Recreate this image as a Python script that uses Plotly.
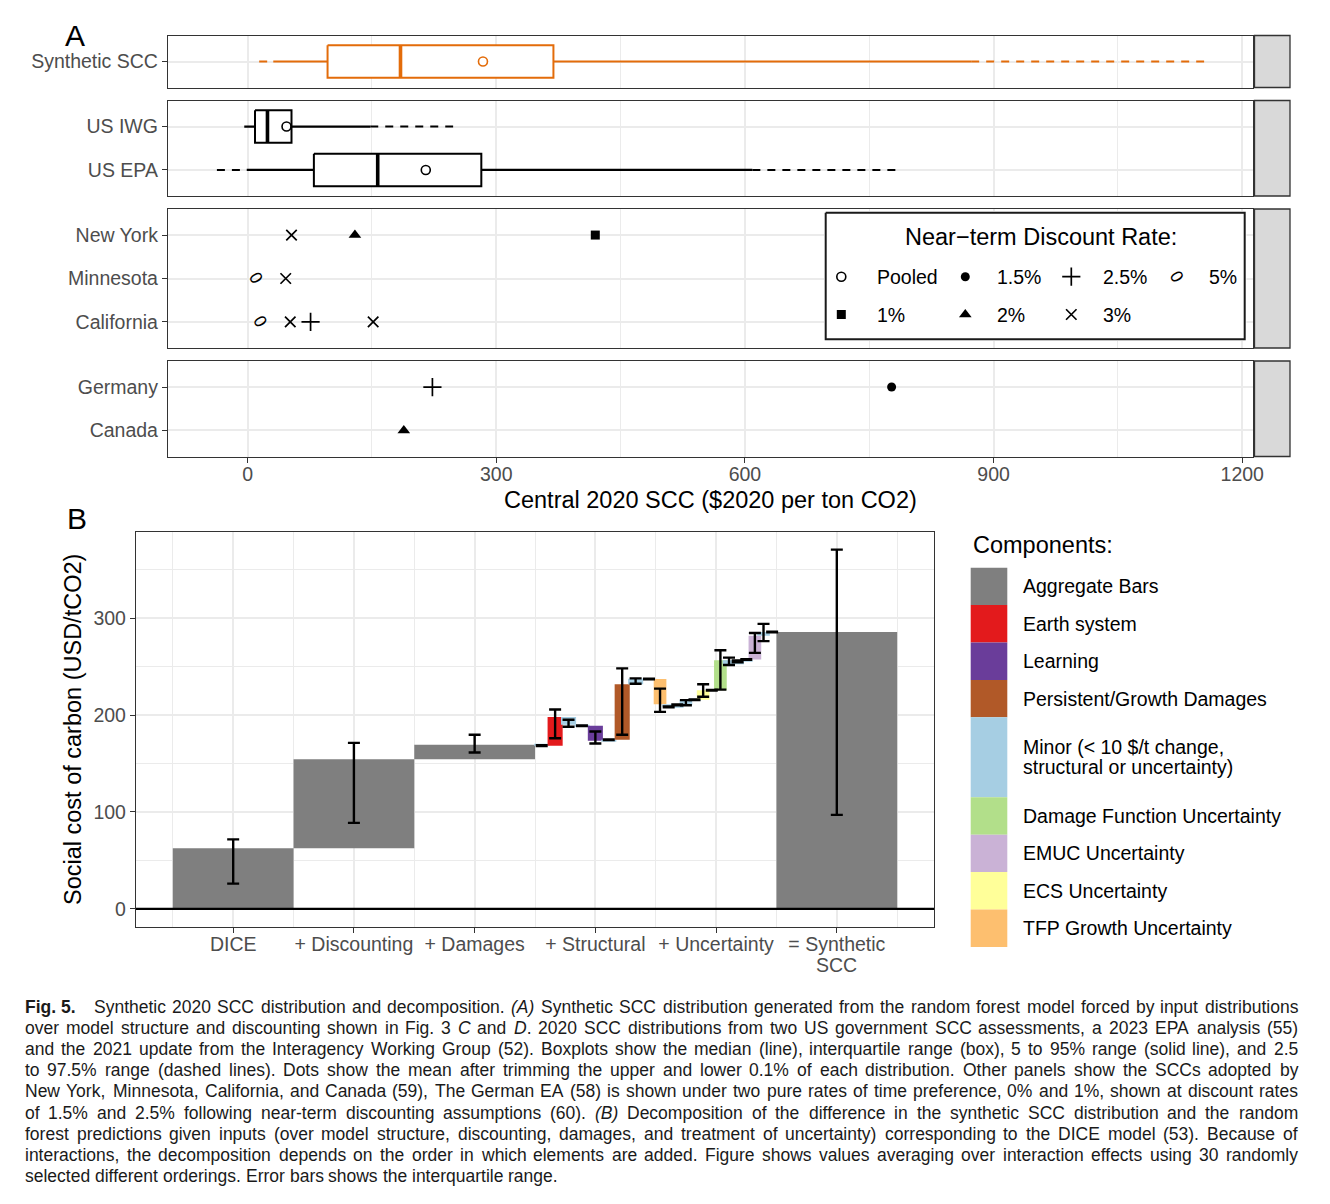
import re
import plotly.graph_objects as go

W, H = 1330, 1204

# ---------------- Panel A data ----------------
panel_rows = [["Synthetic SCC"], ["US IWG", "US EPA"],
              ["New York", "Minnesota", "California"], ["Germany", "Canada"]]

box_names = ["Synthetic SCC", "US IWG", "US EPA"]
box_p025 = [14, -4, -37]
box_p05 = [31, -4, -1]
box_q1 = [96.5, 9, 80]
box_median = [184.5, 24, 157]
box_mean = [284, 47, 215]
box_q3 = [369, 53, 282]
box_p95 = [873, 148, 609]
box_p975 = [1154, 248, 787]

pt_names = ["New York", "New York", "New York", "Minnesota", "Minnesota",
            "California", "California", "California", "California",
            "Germany", "Germany", "Canada"]
pt_rates = ["3%", "2%", "1%", "5%", "3%", "5%", "3%", "2.5%", "3%", "2.5%", "1.5%", "2%"]
pt_values = [53, 129.5, 419.5, 10, 46, 14.5, 51.5, 76, 151.5, 223, 777, 188.5]

legend_a_rates = ["Pooled", "1.5%", "2.5%", "5%", "1%", "2%", "3%"]
x_ticks_a = [0, 300, 600, 900, 1200]

# ---------------- Panel B data ----------------
stage_labels = ["DICE", "+ Discounting", "+ Damages", "+ Structural",
                "+ Uncertainty", "= Synthetic"]
stage_sub = "SCC"

agg_names = ["DICE", "+ Discounting", "+ Damages", "= Synthetic"]
agg_start = [0, 62.5, 154.5, 0]
agg_end = [62.5, 154.5, 169.5, 285.8]
agg_err_lo = [26, 88.7, 161.5, 97]
agg_err_hi = [71.7, 171.4, 179.7, 371]

struct_comp = ["Minor", "Earth system", "Minor", "Minor", "Learning", "Minor",
               "Persistent/Growth Damages", "Minor", "Minor"]
struct_end = [168.5, 198, 190, 189, 173.5, 174.7, 232, 237.5, 237.3]
struct_err_lo = [168.2, 176.2, 188.1, 188.7, 170.8, 174.4, 179.8, 232.5, 237.0]
struct_err_hi = [169.0, 205.8, 195.2, 189.3, 183.2, 175.0, 248.3, 238.0, 237.6]

unc_comp = ["TFP Growth Uncertainty", "Minor", "Minor", "Minor", "Minor",
            "ECS Uncertainty", "Minor", "Damage Function Uncertainty", "Minor",
            "Minor", "Minor", "EMUC Uncertainty", "Minor", "Minor"]
unc_end = [211.3, 208.6, 210.6, 215.5, 216.0, 225.8, 225.8, 256.8, 252.5,
           255.5, 257.4, 282.0, 285.8, 285.8]
unc_err_lo = [203.4, 208.2, 210.3, 210.3, 215.7, 219.0, 225.5, 226.4, 251.8,
              254.5, 257.1, 264.3, 276.5, 285.5]
unc_err_hi = [227.4, 209.0, 211.0, 215.5, 216.3, 232.0, 226.1, 267.0, 259.4,
              256.5, 257.7, 284.8, 294.3, 286.1]

comp_names = ["Aggregate Bars", "Earth system", "Learning", "Persistent/Growth Damages",
              "Minor", "Damage Function Uncertainty", "EMUC Uncertainty",
              "ECS Uncertainty", "TFP Growth Uncertainty"]
comp_labels = ["Aggregate Bars", "Earth system", "Learning", "Persistent/Growth Damages",
               "Minor (&lt; 10 $/t change,|structural or uncertainty)",
               "Damage Function Uncertainty", "EMUC Uncertainty",
               "ECS Uncertainty", "TFP Growth Uncertainty"]
comp_colors = ["#7F7F7F", "#E31A1C", "#6A3D9A", "#B15928", "#A6CEE3",
               "#B2DF8A", "#CAB2D6", "#FFFF99", "#FDBF6F"]

caption_lines = [
    "<b>Fig.\u00a05.</b>\u00a0\u00a0 Synthetic 2020 SCC distribution and decomposition. <i>(A)</i> Synthetic SCC distribution generated from the random forest model forced by input distributions",
    "over model structure and discounting shown in Fig. 3 <i>C</i> and <i>D</i>. 2020 SCC distributions from two US government SCC assessments, a 2023 EPA analysis (55)",
    "and the 2021 update from the Interagency Working Group (52). Boxplots show the median (line), interquartile range (box), 5 to 95% range (solid line), and 2.5",
    "to 97.5% range (dashed lines). Dots show the mean after trimming the upper and lower 0.1% of each distribution. Other panels show the SCCs adopted by",
    "New York, Minnesota, California, and Canada (59), The German EA (58) is shown under two pure rates of time preference, 0% and 1%, shown at discount rates",
    "of 1.5% and 2.5% following near-term discounting assumptions (60). <i>(B)</i> Decomposition of the difference in the synthetic SCC distribution and the random",
    "forest predictions given inputs (over model structure, discounting, damages, and treatment of uncertainty) corresponding to the DICE model (53). Because of",
    "interactions, the decomposition depends on the order in which elements are added. Figure shows values averaging over interaction effects using 30 randomly",
    "selected different orderings. Error bars shows the interquartile range.",
]

# ---------------- styles ----------------
FONT = "Liberation Sans, Arial, Helvetica, sans-serif"
CAPFONT = "Liberation Sans, Arial, sans-serif"
GRID = "#EBEBEB"
BORDER = "#333333"
TICKC = "#4D4D4D"
ORANGE = "#E36C0A"
DASH = "8px,7px"
rate_style = {
    "Pooled": dict(symbol="circle-open", size=9, lw=1.6),
    "1.5%": dict(symbol="circle", size=9, lw=0),
    "2.5%": dict(symbol="cross-thin-open", size=13, lw=1.7),
    "5%": None,  # drawn as a tilted text ellipse
    "1%": dict(symbol="square", size=9, lw=0),
    "2%": dict(symbol="triangle-up", size=11, lw=0),
    "3%": dict(symbol="x-thin-open", size=10.5, lw=1.7),
}
ELLIPSE_GLYPH = dict(text="0", textangle=60, font=dict(family="DejaVu Sans, sans-serif", size=16.5, color="black"))


def fx(p):
    return p / W


def fy(p):
    return 1 - p / H


row_px = [(35.5, 87.5), (100.5, 196), (209, 348), (361, 456.5)]
A_X0, A_X1 = 168, 1253
B_X0, B_X1, B_Y0, B_Y1 = 136, 934, 531.7, 926.7


def axname(i, kind):
    return kind if i == 1 else f"{kind}{i}"


def locate(name):
    for r, names in enumerate(panel_rows):
        if name in names:
            return r + 1, names.index(name)


fig = go.Figure()
annotations = []

# ---------------- Panel A boxplots ----------------
hw = 0.375
for i, name in enumerate(box_names):
    r, k = locate(name)
    xa, ya = axname(r, "x"), axname(r, "y")
    col = ORANGE if name == "Synthetic SCC" else "black"
    common = dict(xaxis=xa, yaxis=ya, showlegend=False, hoverinfo="skip", mode="lines")
    for a, b in [(box_p025[i], box_p05[i]), (box_p95[i], box_p975[i])]:
        fig.add_trace(go.Scatter(x=[a, b], y=[k, k], line=dict(color=col, width=2, dash=DASH), **common))
    for a, b in [(box_p05[i], box_q1[i]), (box_q3[i], box_p95[i])]:
        fig.add_trace(go.Scatter(x=[a, b], y=[k, k], line=dict(color=col, width=2.2), **common))
    q1, q3 = box_q1[i], box_q3[i]
    fig.add_trace(go.Scatter(x=[q1, q3, q3, q1, q1], y=[k - hw, k - hw, k + hw, k + hw, k - hw],
                             fill="toself", fillcolor="white", line=dict(color=col, width=2), **common))
    m = box_median[i]
    fig.add_trace(go.Scatter(x=[m, m], y=[k - hw, k + hw], line=dict(color=col, width=3.6), **common))
    fig.add_trace(go.Scatter(x=[box_mean[i]], y=[k], mode="markers", xaxis=xa, yaxis=ya,
                             showlegend=False, hoverinfo="skip",
                             marker=dict(symbol="circle-open", size=9, color=col, line=dict(width=1.6, color=col))))

# ---------------- Panel A jurisdiction points ----------------
for name, rate, val in zip(pt_names, pt_rates, pt_values):
    r, k = locate(name)
    st = rate_style[rate]
    if st is None:
        annotations.append(dict(x=val, y=k, xref=axname(r, "x"), yref=axname(r, "y"),
                                xanchor="center", yanchor="middle", showarrow=False, **ELLIPSE_GLYPH))
        continue
    fig.add_trace(go.Scatter(
        x=[val], y=[k], mode="markers", xaxis=axname(r, "x"), yaxis=axname(r, "y"),
        showlegend=False, hoverinfo="skip",
        marker=dict(symbol=st["symbol"], size=st["size"], color="black",
                    line=dict(width=st["lw"], color="black"))))

# ---------------- Panel A legend (manual, own overlay axes) ----------------
LX0, LX1, LY0, LY1 = 824, 1246.5, 211, 341
fig.add_trace(go.Scatter(x=[825.7, 1244.7, 1244.7, 825.7, 825.7],
                         y=[212.7, 212.7, 339.3, 339.3, 212.7],
                         mode="lines", fill="toself", fillcolor="white",
                         line=dict(color="#1a1a1a", width=2),
                         xaxis="x6", yaxis="y6", showlegend=False, hoverinfo="skip"))
leg_a_gx = [841.3, 965.3, 1071.3, 1176.0, 841.3, 965.3, 1071.3]
leg_a_lx = [874.7, 995.3, 1101.3, 1207.0, 874.7, 995.3, 1101.3]
leg_a_y = [276.7, 276.7, 276.7, 276.7, 314.5, 314.5, 314.5]
for rate, gx, gy in zip(legend_a_rates, leg_a_gx, leg_a_y):
    st = rate_style[rate]
    if st is None:
        annotations.append(dict(x=fx(gx), y=fy(gy), xref="paper", yref="paper",
                                xanchor="center", yanchor="middle", showarrow=False, **ELLIPSE_GLYPH))
        continue
    fig.add_trace(go.Scatter(
        x=[gx], y=[gy], mode="markers", xaxis="x6", yaxis="y6", showlegend=False, hoverinfo="skip",
        marker=dict(symbol=st["symbol"], size=st["size"], color="black",
                    line=dict(width=st["lw"], color="black"))))

annotations.append(dict(text="Near\u2212term Discount Rate:", x=fx(1040.5), y=fy(237), xref="paper", yref="paper",
                        xanchor="center", yanchor="middle", showarrow=False,
                        font=dict(family=FONT, size=23.5, color="black")))
for rate, lx, ly in zip(legend_a_rates, leg_a_lx, leg_a_y):
    annotations.append(dict(text=rate, x=fx(lx), y=fy(ly), xref="paper", yref="paper",
                            xanchor="left", yanchor="middle", showarrow=False,
                            font=dict(family=FONT, size=19.5, color="black")))

# ---------------- Panel B waterfall ----------------
color_of = dict(zip(comp_names, comp_colors))
bx = [stage_labels.index(n) + 1 for n in agg_names]
fig.add_trace(go.Bar(x=bx, base=agg_start, y=[e - s for s, e in zip(agg_start, agg_end)],
                     width=1.0, marker=dict(color=color_of["Aggregate Bars"], line=dict(width=0)),
                     xaxis="x5", yaxis="y5", showlegend=False, hoverinfo="skip"))
fig.add_trace(go.Scatter(x=bx, y=agg_err_lo, mode="markers", marker=dict(size=2, color="rgba(0,0,0,0)"),
                         error_y=dict(type="data", symmetric=False,
                                      array=[h - l for l, h in zip(agg_err_lo, agg_err_hi)],
                                      arrayminus=[0] * len(bx), color="black", thickness=2.4, width=6),
                         xaxis="x5", yaxis="y5", showlegend=False, hoverinfo="skip"))


def add_group(stage, comps, ends, lo, hi, start, width):
    n = len(comps)
    g0 = stage_labels.index(stage) + 1 - 0.5
    xs = [g0 + (j + 0.5) / n for j in range(n)]
    starts = [start] + ends[:-1]
    fig.add_trace(go.Bar(x=xs, base=starts, y=[e - s for s, e in zip(starts, ends)], width=width,
                         marker=dict(color=[color_of[c] for c in comps], line=dict(width=0)),
                         xaxis="x5", yaxis="y5", showlegend=False, hoverinfo="skip"))
    fig.add_trace(go.Scatter(x=xs, y=lo, mode="markers", marker=dict(size=2, color="rgba(0,0,0,0)"),
                             error_y=dict(type="data", symmetric=False,
                                          array=[h - l for l, h in zip(lo, hi)],
                                          arrayminus=[0] * n, color="black", thickness=2.4, width=6),
                             xaxis="x5", yaxis="y5", showlegend=False, hoverinfo="skip"))


add_group("+ Structural", struct_comp, struct_end, struct_err_lo, struct_err_hi,
          agg_end[agg_names.index("+ Damages")], 0.125)
add_group("+ Uncertainty", unc_comp, unc_end, unc_err_lo, unc_err_hi, struct_end[-1], 0.105)

# second line of the last stage label
annotations.append(dict(text=stage_sub, x=len(stage_labels), y=fy(965), xref="x5", yref="paper",
                        xanchor="center", yanchor="middle", showarrow=False,
                        font=dict(family=FONT, size=19.5, color=TICKC)))

# ---------------- layout axes ----------------
layout = dict(width=W, height=H, margin=dict(l=0, r=0, t=0, b=0, pad=0, autoexpand=False),
              paper_bgcolor="white", plot_bgcolor="white", barmode="overlay", showlegend=False,
              font=dict(family=FONT, color="black"))

for r in range(1, 5):
    names = panel_rows[r - 1]
    n = len(names)
    y0p, y1p = row_px[r - 1]
    bottom = (r == 4)
    layout[("xaxis" if r == 1 else f"xaxis{r}")] = dict(
        domain=[fx(A_X0), fx(A_X1)], anchor=axname(r, "y"), range=[-96, 1213], automargin=False,
        tickmode="array", tickvals=x_ticks_a, ticktext=[str(v) for v in x_ticks_a],
        showticklabels=bottom, ticks="outside" if bottom else "", ticklen=5, tickwidth=1.3, tickcolor=BORDER,
        ticklabelstandoff=-5,
        tickfont=dict(family=FONT, size=19.5, color=TICKC),
        showgrid=True, gridcolor=GRID, gridwidth=1.6, zeroline=False,
        minor=dict(tickvals=[-150, 150, 450, 750, 1050], showgrid=True, gridcolor=GRID, gridwidth=0.9, ticks=""),
        showline=True, mirror=True, linecolor=BORDER, linewidth=1.3)
    layout[("yaxis" if r == 1 else f"yaxis{r}")] = dict(
        domain=[fy(y1p), fy(y0p)], anchor=axname(r, "x"), range=[n - 0.4, -0.6], automargin=False,
        tickmode="array", tickvals=list(range(n)), ticktext=names,
        ticks="outside", ticklen=5, tickwidth=1.3, tickcolor=BORDER,
        tickfont=dict(family=FONT, size=19.5, color=TICKC),
        showgrid=True, gridcolor=GRID, gridwidth=1.6, zeroline=False,
        showline=True, mirror=True, linecolor=BORDER, linewidth=1.3)

layout["xaxis5"] = dict(
    domain=[fx(B_X0), fx(B_X1)], anchor="y5", range=[0.195, 6.805], automargin=False,
    tickmode="array", tickvals=list(range(1, 7)), ticktext=stage_labels,
    ticks="outside", ticklen=5, tickwidth=1.3, tickcolor=BORDER, ticklabelstandoff=-5,
    tickfont=dict(family=FONT, size=19.5, color=TICKC),
    showgrid=True, gridcolor=GRID, gridwidth=1.6, zeroline=False,
    minor=dict(tickvals=[0.5, 1.5, 2.5, 3.5, 4.5, 5.5, 6.5], showgrid=True, gridcolor=GRID, gridwidth=0.9, ticks=""),
    showline=True, mirror=True, linecolor=BORDER, linewidth=1.3)
layout["yaxis5"] = dict(
    domain=[fy(B_Y1), fy(B_Y0)], anchor="x5", range=[-18.5, 389.5], automargin=False,
    tickmode="array", tickvals=[0, 100, 200, 300],
    ticks="outside", ticklen=5, tickwidth=1.3, tickcolor=BORDER,
    tickfont=dict(family=FONT, size=19.5, color=TICKC),
    showgrid=True, gridcolor=GRID, gridwidth=1.6, zeroline=False,
    minor=dict(tickvals=[50, 150, 250, 350], showgrid=True, gridcolor=GRID, gridwidth=0.9, ticks=""),
    showline=True, mirror=True, linecolor=BORDER, linewidth=1.3)

layout["xaxis6"] = dict(domain=[fx(LX0), fx(LX1)], range=[LX0, LX1], anchor="y6", visible=False,
                        fixedrange=True, automargin=False)
layout["yaxis6"] = dict(domain=[fy(LY1), fy(LY0)], range=[LY1, LY0], anchor="x6", visible=False,
                        fixedrange=True, automargin=False)

# ---------------- shapes ----------------
shapes = []
for (y0p, y1p) in row_px:
    shapes.append(dict(type="rect", xref="paper", yref="paper", x0=fx(1254.5), x1=fx(1290),
                       y0=fy(y1p), y1=fy(y0p), fillcolor="#D9D9D9", line=dict(color=BORDER, width=1.3),
                       layer="above"))
shapes.append(dict(type="line", xref="x5 domain", yref="y5", x0=0, x1=1, y0=0, y1=0,
                   line=dict(color="black", width=2.2), layer="above"))

# legend B keys
key_heights = [37.4, 37.4, 37.4, 37.4, 80, 37.4, 37.4, 37.4, 37.4]
ktop = 567.7
for lab, colr, kh in zip(comp_labels, comp_colors, key_heights):
    shapes.append(dict(type="rect", xref="paper", yref="paper", x0=fx(970.7), x1=fx(1007.3),
                       y0=fy(ktop + kh), y1=fy(ktop), fillcolor=colr, line=dict(width=0)))
    parts = lab.split("|")
    cy = ktop + kh / 2
    offs = [0] if len(parts) == 1 else [-10, 10]
    for part, o in zip(parts, offs):
        annotations.append(dict(text=part, x=fx(1020.7), y=fy(cy + o), xref="paper", yref="paper",
                                xanchor="left", yanchor="middle", showarrow=False,
                                font=dict(family=FONT, size=19.5, color="black")))
    ktop += kh
annotations.append(dict(text="Components:", x=fx(970.5), y=fy(545), xref="paper", yref="paper",
                        xanchor="left", yanchor="middle", showarrow=False,
                        font=dict(family=FONT, size=23.5, color="black")))

# titles and panel letters
annotations.append(dict(text="Central 2020 SCC ($2020 per ton CO2)", x=fx(710), y=fy(500), xref="paper",
                        yref="paper", xanchor="center", yanchor="middle", showarrow=False,
                        font=dict(family=FONT, size=23.5, color="black")))
annotations.append(dict(text="Social cost of carbon (USD/tCO2)", x=fx(73), y=fy(730), xref="paper",
                        yref="paper", xanchor="center", yanchor="middle", showarrow=False, textangle=-90,
                        font=dict(family=FONT, size=23.5, color="black")))
annotations.append(dict(text="A", x=fx(75), y=fy(35), xref="paper", yref="paper", xanchor="center",
                        yanchor="middle", showarrow=False, font=dict(family=FONT, size=30, color="black")))
annotations.append(dict(text="B", x=fx(76.5), y=fy(518), xref="paper", yref="paper", xanchor="center",
                        yanchor="middle", showarrow=False, font=dict(family=FONT, size=30, color="black")))

# ---------------- caption (justified with Arial-compatible metrics) ----------------
AW = {' ': 278, '\u00a0': 278, '(': 333, ')': 333, ',': 278, '-': 333, '.': 278, '/': 278, '%': 889,
      ':': 278, ';': 278, '$': 556,
      'A': 667, 'B': 667, 'C': 722, 'D': 722, 'E': 667, 'F': 611, 'G': 778, 'H': 722, 'I': 278,
      'J': 500, 'K': 667, 'L': 556, 'M': 833, 'N': 722, 'O': 778, 'P': 667, 'Q': 778, 'R': 722,
      'S': 667, 'T': 611, 'U': 722, 'V': 667, 'W': 944, 'X': 667, 'Y': 667, 'Z': 611,
      'a': 556, 'b': 556, 'c': 500, 'd': 556, 'e': 556, 'f': 278, 'g': 556, 'h': 556, 'i': 222,
      'j': 222, 'k': 500, 'l': 222, 'm': 833, 'n': 556, 'o': 556, 'p': 556, 'q': 556, 'r': 333,
      's': 500, 't': 278, 'u': 556, 'v': 500, 'w': 722, 'x': 500, 'y': 500, 'z': 500}


def word_w(word):
    bold = "<b>" in word
    plain = re.sub(r"<[^>]+>", "", word)
    w = sum(AW.get(ch, 556) for ch in plain)
    return w * (1.07 if bold else 1.0)


CAP_L, CAP_R = 25, 1298
line_words = [ln.split(" ") for ln in caption_lines]
natural = [sum(word_w(w) for w in ws) + AW[' '] * (len(ws) - 1) for ws in line_words]
cap_size = min(17.5, (CAP_R - CAP_L) * 1000.0 / max(natural[:-1]) * 0.985)
for j, ws in enumerate(line_words):
    yj = fy(1007 + 21.1 * j)
    widths = [word_w(w) * cap_size / 1000 for w in ws]
    if j < len(line_words) - 1:
        gap = ((CAP_R - CAP_L) - sum(widths)) / (len(ws) - 1)
    else:
        gap = AW[' '] * cap_size / 1000
    xpos = CAP_L
    for w, wd in zip(ws, widths):
        annotations.append(dict(text=w, x=fx(xpos), y=yj, xref="paper", yref="paper",
                                xanchor="left", yanchor="middle", showarrow=False, borderpad=0, borderwidth=0,
                                font=dict(family=CAPFONT, size=cap_size, color="#1a1a1a")))
        xpos += wd + gap

layout["shapes"] = shapes
layout["annotations"] = annotations
fig.update_layout(**layout)

fig.write_html("out.html", config={"displayModeBar": False},
               post_script="document.body.style.margin='0px';document.body.style.overflow='hidden';")
